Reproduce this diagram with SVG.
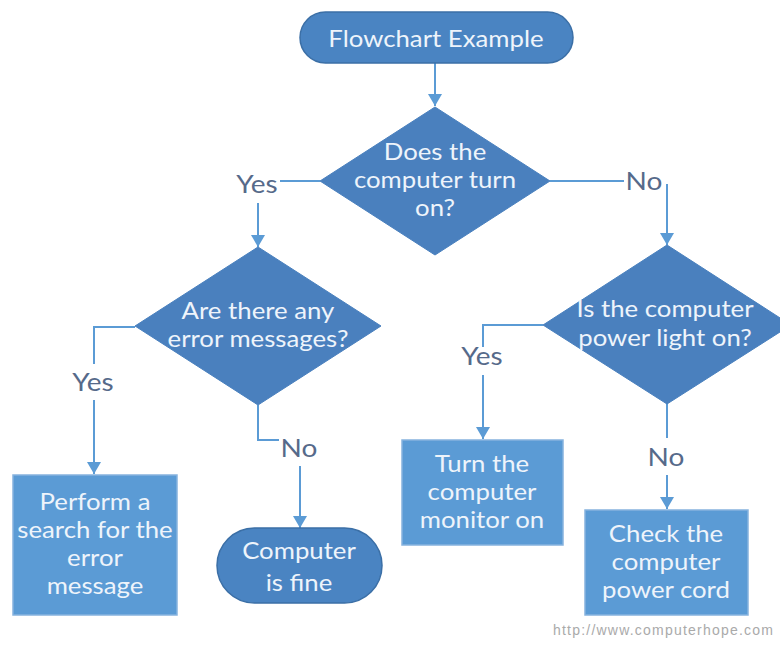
<svg xmlns="http://www.w3.org/2000/svg" width="780" height="646" viewBox="0 0 780 646">
<style>
.term{fill:#4A84C2;stroke:#3B6FA6;stroke-width:1.5}
.dia{fill:#4A80BE;stroke:#4A80BE;stroke-width:1}
.box{fill:#5B9BD5;stroke:#86B3DE;stroke-width:1.5}
.t{font-family:Lato,"Open Sans","Liberation Sans",sans-serif;fill:#EEF4FB;text-anchor:middle;font-size:23px}
.lbl{font-family:Lato,"Open Sans","Liberation Sans",sans-serif;fill:#566A8A;text-anchor:middle;font-size:25px}
.c{fill:none;stroke:#5B9BD5;stroke-width:2}
</style>
<defs>
<marker id="ah" viewBox="0 0 12 14" refX="12" refY="7" markerWidth="12" markerHeight="14" markerUnits="userSpaceOnUse" orient="auto">
<path d="M0,0 L12,7 L0,14 z" fill="#5B9BD5"/>
</marker>
</defs>
<rect width="780" height="646" fill="#FFFFFF"/>
<g id="connectors">
<path class="c" d="M435,63 L435,106" marker-end="url(#ah)"/>
<path class="c" d="M320,181 L280,181"/>
<path class="c" d="M258,203 L258,247" marker-end="url(#ah)"/>
<path class="c" d="M550,181 L624,181"/>
<path class="c" d="M667,184 L667,245" marker-end="url(#ah)"/>
<path class="c" d="M135,327 L94,327 L94,364"/>
<path class="c" d="M94,400 L94,474" marker-end="url(#ah)"/>
<path class="c" d="M258,405 L258,440 L279,440"/>
<path class="c" d="M300,466 L300,528" marker-end="url(#ah)"/>
<path class="c" d="M543,325 L483,325 L483,347"/>
<path class="c" d="M483,375 L483,439" marker-end="url(#ah)"/>
<path class="c" d="M667,403 L667,438"/>
<path class="c" d="M667,475 L667,509" marker-end="url(#ah)"/>
<text class="lbl" x="257" y="193" transform="matrix(1.12 0 0 1 -30.84 0)">Yes</text>
<text class="lbl" x="644" y="190" transform="matrix(1.12 0 0 1 -77.28 0)">No</text>
<text class="lbl" x="93" y="391" transform="matrix(1.12 0 0 1 -11.16 0)">Yes</text>
<text class="lbl" x="299" y="457" transform="matrix(1.12 0 0 1 -35.88 0)">No</text>
<text class="lbl" x="482" y="365" transform="matrix(1.12 0 0 1 -57.84 0)">Yes</text>
<text class="lbl" x="666" y="466" transform="matrix(1.12 0 0 1 -79.92 0)">No</text>
</g>
<g id="start">
<rect class="term" x="300" y="12" width="273" height="51" rx="25.5"/>
<text class="t" x="436" y="47" font-size="25" transform="matrix(1.12 0 0 1 -52.32 0)">Flowchart Example</text>
</g>
<g id="q-turn-on">
<polygon class="dia" points="435,107 550,181 435,255 320,181"/>
<g transform="matrix(1.12 0 0 1 -52.2 0)">
<text class="t" x="435" y="160">Does the</text>
<text class="t" x="435" y="188">computer turn</text>
<text class="t" x="435" y="216">on?</text>
</g>
</g>
<g id="q-errors">
<polygon class="dia" points="258,247 381,326 258,405 135,326"/>
<g transform="matrix(1.12 0 0 1 -30.96 0)">
<text class="t" x="258" y="319">Are there any</text>
<text class="t" x="258" y="347">error messages?</text>
</g>
</g>
<g id="q-power-light">
<polygon class="dia" points="667,245 791,325 667,404 543,325"/>
<g transform="matrix(1.12 0 0 1 -79.8 0)">
<text class="t" x="665" y="317">Is the computer</text>
<text class="t" x="665" y="346">power light on?</text>
</g>
</g>
<g id="search">
<rect class="box" x="13" y="475" width="164" height="140"/>
<g transform="matrix(1.12 0 0 1 -11.4 0)">
<text class="t" x="95" y="510">Perform a</text>
<text class="t" x="95" y="538">search for the</text>
<text class="t" x="95" y="566">error</text>
<text class="t" x="95" y="594">message</text>
</g>
</g>
<g id="fine">
<rect class="term" x="217" y="528" width="165" height="75" rx="37.5"/>
<g transform="matrix(1.12 0 0 1 -35.88 0)">
<text class="t" x="299" y="559" font-size="26">Computer</text>
<text class="t" x="299" y="591" font-size="26">is fine</text>
</g>
</g>
<g id="monitor">
<rect class="box" x="402" y="440" width="161" height="105"/>
<g transform="matrix(1.12 0 0 1 -57.84 0)">
<text class="t" x="482" y="472">Turn the</text>
<text class="t" x="482" y="500">computer</text>
<text class="t" x="482" y="528">monitor on</text>
</g>
</g>
<g id="power-cord">
<rect class="box" x="585" y="510" width="163" height="105"/>
<g transform="matrix(1.12 0 0 1 -79.92 0)">
<text class="t" x="666" y="542">Check the</text>
<text class="t" x="666" y="570">computer</text>
<text class="t" x="666" y="598">power cord</text>
</g>
</g>
<text x="773" y="635" text-anchor="end" font-family="Liberation Sans, sans-serif" font-size="14" fill="#AAAAAA" textLength="220">http://www.computerhope.com</text>
</svg>
